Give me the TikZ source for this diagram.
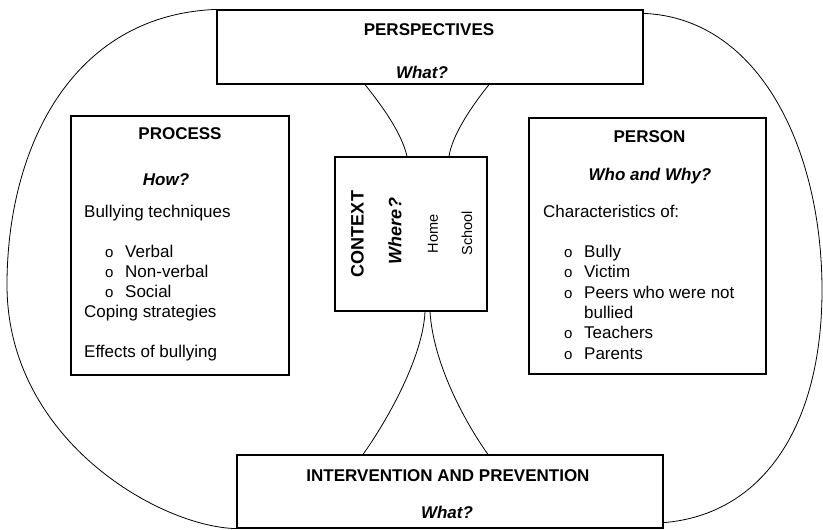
\documentclass[tikz,border=0pt]{standalone}
\usepackage{fontspec}
\setmainfont{Liberation Sans}
\newcommand{\itm}[1]{\hspace*{21pt}\makebox[20pt][l]{\fontsize{15}{20}\selectfont o}#1}

\begin{document}
\begin{tikzpicture}[x=1pt,y=-1pt,box/.style={draw,line width=1.2pt,inner
        sep=0pt},link/.style={line width=0.8pt}]
    \tikzstyle{head}=[font=\bfseries\fontsize{17}{20}\selectfont,anchor=base,inner sep=0pt]
    \tikzstyle{ask}=[font=\bfseries\itshape\fontsize{17}{20}\selectfont,anchor=base,inner sep=0pt]
    \tikzstyle{body}=[anchor=base west,inner sep=0pt]
    \tikzstyle{side}=[rotate=90,inner sep=0pt]

    \useasboundingbox (0,0) rectangle (823,530);

    \node[box,minimum width=426pt,minimum height=74pt] (persp) at (430,47) {};
    \node[box,minimum width=218pt,minimum height=259pt] (process) at (180,245.5) {};
    \node[box,minimum width=152pt,minimum height=154pt] (context) at (411,234) {};
    \node[box,minimum width=237pt,minimum height=256pt] (person) at (647.5,246) {};
    \node[box,minimum width=426pt,minimum height=73pt] (interv) at (450,491.5) {};

    % outer ring
    \draw[link] (persp.north west) .. controls (70,15) and (7,150) .. (7,285)
        .. controls (7,440) and (160,527) .. (interv.south west);
    \draw[link] ([yshift=-4pt]persp.north east) .. controls (760,18) and (822,150) .. (822,290)
        .. controls (822,430) and (760,515) .. ([yshift=6pt]interv.south east);

    % waist
    \draw[link] ([xshift=-65pt]persp.south) .. controls +(20,25) and +(-5,-22) .. ([xshift=-4pt]context.north);
    \draw[link] ([xshift=59pt]persp.south) .. controls +(-20,25) and +(3,-20) .. ([xshift=38pt]context.north);
    \draw[link] ([xshift=14pt]context.south) .. controls +(-2,45) and +(25,-35) .. ([xshift=-87pt]interv.north);
    \draw[link] ([xshift=19pt]context.south) .. controls +(3,50) and +(-25,-35) .. ([xshift=38pt]interv.north);

    \node[head] (perspT) at (429,35) {PERSPECTIVES};
    \node[ask] (perspQ) at (422,78) {What?};

    \node[head] (processT) at (180,139) {PROCESS};
    \node[ask] (processQ) at (166,185) {How?};
    \node[body] (processL) at (84,217) {\fontsize{17}{20}\selectfont
        \begin{tabular}[t]{@{}l@{}}
        Bullying techniques\\ \\
        \itm{Verbal}\\
        \itm{Non-verbal}\\
        \itm{Social}\\
        Coping strategies\\ \\
        Effects of bullying
        \end{tabular}};

    \node[head] (personT) at (649.5,142) {PERSON};
    \node[ask] (personQ) at (650,180) {Who and Why?};
    \node[body] (personL) at (543,217) {\fontsize{17}{20.3}\selectfont
        \begin{tabular}[t]{@{}l@{}}
        Characteristics of:\\ \\
        \itm{Bully}\\
        \itm{Victim}\\
        \itm{Peers who were not}\\
        \hspace*{41pt}bullied\\
        \itm{Teachers}\\
        \itm{Parents}
        \end{tabular}};

    \node[side,font=\bfseries\fontsize{18}{20}\selectfont] (contextT) at (357.5,234) {CONTEXT};
    \node[side,font=\bfseries\itshape\fontsize{18}{20}\selectfont] (contextQ) at (395,231) {Where?};
    \node[side,font=\fontsize{14.5}{18}\selectfont] (home) at (433,234) {Home};
    \node[side,font=\fontsize{14.5}{18}\selectfont] (school) at (467,233) {School};

    \node[head] (intervT) at (448,481) {INTERVENTION AND PREVENTION};
    \node[ask] (intervQ) at (447,518) {What?};

  \end{tikzpicture}
\end{document}
